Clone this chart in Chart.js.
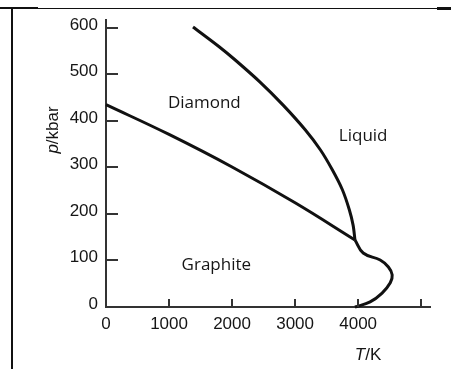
<!DOCTYPE html>
<html>
<head>
<meta charset="utf-8">
<title>Carbon phase diagram</title>
<script src="https://cdn.jsdelivr.net/npm/chart.js@4.4.1/dist/chart.umd.min.js"></script>
<style>
  html, body { margin: 0; padding: 0; background: #fff; }
  body { width: 451px; height: 369px; position: relative; overflow: hidden; }
  .rule { position: absolute; background: #111; }
  .rule-top { left: 0; top: 8px; width: 451px; height: 1px; }
  .rule-top-left { left: 0; top: 7px; width: 38px; height: 2px; }
  .rule-top-right { left: 437px; top: 7px; width: 14px; height: 3px; }
  .rule-left { left: 11px; top: 8px; width: 2px; height: 361px; }
  #phaseChart { position: absolute; left: 0; top: 0; }
</style>
</head>
<body>
<div class="rule rule-top"></div>
<div class="rule rule-top-left"></div>
<div class="rule rule-top-right"></div>
<div class="rule rule-left"></div>
<canvas id="phaseChart" width="451" height="369"></canvas>
<script>
// phase boundaries, T in K and p in kbar
const diamondGraphiteT = [0, 1000, 2000, 3000, 3950];
const diamondGraphiteP = [435, 371, 301, 224, 144];

const diamondLiquidT = [1380, 1800, 2050, 2440, 2810, 3160, 3400, 3590, 3750, 3860, 3920, 3950];
const diamondLiquidP = [602, 559, 531, 484, 434, 381, 338, 295, 252, 209, 176, 144];

const graphiteLiquidT = [3950, 4080, 4350, 4480, 4540, 4510, 4380, 4190, 3950];
const graphiteLiquidP = [144, 116, 101, 86, 69, 52, 30, 11, 0];

const xTicks = [0, 1000, 2000, 3000, 4000, 5000];
const xTickLabels = ['0', '1000', '2000', '3000', '4000', ''];
const yTicks = [0, 100, 200, 300, 400, 500, 600];
const yTickLabels = ['0', '100', '200', '300', '400', '500', '600'];

const regionNames = ['Diamond', 'Liquid', 'Graphite'];
const regionT = [1560, 4080, 1750];
const regionP = [439, 368, 90];

const axisMaxT = 5140;
const axisMaxP = 617;

const ink = '#111';
const axisInk = '#333';
const textInk = '#151515';

function toPoints(ts, ps) {
  return ts.map((t, i) => ({ x: t, y: ps[i] }));
}

function boundary(ts, ps, tension) {
  return {
    data: toPoints(ts, ps),
    showLine: true,
    borderColor: ink,
    borderWidth: 3,
    pointRadius: 0,
    tension: tension,
    fill: false,
    clip: false
  };
}

function drawMixedLabel(ctx, parts, size) {
  // parts: [[text, italic], ...] drawn centred on the current origin
  const fonts = parts.map(p => `${p[1] ? 'italic ' : ''}${size}px "Liberation Sans"`);
  const widths = parts.map((p, i) => {
    ctx.font = fonts[i];
    return ctx.measureText(p[0]).width;
  });
  let cursor = -widths.reduce((a, b) => a + b, 0) / 2;
  ctx.textAlign = 'left';
  ctx.textBaseline = 'middle';
  parts.forEach((p, i) => {
    ctx.font = fonts[i];
    ctx.fillText(p[0], cursor, 0);
    cursor += widths[i];
  });
}

const phaseMarks = {
  id: 'phaseMarks',
  afterDraw(chart) {
    const { ctx, chartArea, scales: { x, y } } = chart;
    ctx.save();

    // tick marks point into the plot
    ctx.strokeStyle = axisInk;
    ctx.lineWidth = 2;
    ctx.beginPath();
    yTicks.filter(v => v > 0).forEach(v => {
      const py = Math.round(y.getPixelForValue(v));
      ctx.moveTo(chartArea.left, py);
      ctx.lineTo(chartArea.left + 12, py);
    });
    xTicks.filter(v => v > 0).forEach(v => {
      const px = Math.round(x.getPixelForValue(v));
      ctx.moveTo(px, chartArea.bottom);
      ctx.lineTo(px, chartArea.bottom - 8);
    });
    ctx.stroke();

    // region names
    ctx.fillStyle = textInk;
    ctx.font = '17px "Open Sans"';
    ctx.textAlign = 'center';
    ctx.textBaseline = 'middle';
    regionNames.forEach((name, i) => {
      ctx.fillText(name, x.getPixelForValue(regionT[i]), y.getPixelForValue(regionP[i]));
    });

    // axis titles
    ctx.save();
    ctx.translate(chartArea.right - 62, chartArea.bottom + 48);
    drawMixedLabel(ctx, [['T', true], ['/K', false]], 17);
    ctx.restore();

    ctx.save();
    ctx.translate(chartArea.left - 53, chartArea.top + 110);
    ctx.rotate(-Math.PI / 2);
    drawMixedLabel(ctx, [['p', true], ['/kbar', false]], 17);
    ctx.restore();

    ctx.restore();
  }
};

function buildChart() {
  const ctx = document.getElementById('phaseChart').getContext('2d');
  Chart.defaults.font.family = '"Liberation Sans", Arial, sans-serif';

  return new Chart(ctx, {
    type: 'scatter',
    data: {
      datasets: [
        boundary(diamondGraphiteT, diamondGraphiteP, 0.4),
        boundary(diamondLiquidT, diamondLiquidP, 0.3),
        boundary(graphiteLiquidT, graphiteLiquidP, 0.4)
      ]
    },
    options: {
      responsive: false,
      animation: false,
      layout: { padding: { top: 20, right: 21, left: 0, bottom: 0 } },
      plugins: {
        legend: { display: false },
        tooltip: { enabled: false }
      },
      scales: {
        x: {
          type: 'linear',
          min: 0,
          max: axisMaxT,
          grid: { display: false, drawTicks: false },
          border: { display: true, color: axisInk, width: 2 },
          afterBuildTicks: scale => { scale.ticks = xTicks.map(v => ({ value: v })); },
          afterFit: scale => { scale.height = 62; },
          ticks: {
            autoSkip: false,
            maxRotation: 0,
            padding: 7,
            color: textInk,
            font: { size: 17 },
            callback: value => xTickLabels[xTicks.indexOf(value)]
          }
        },
        y: {
          type: 'linear',
          min: 0,
          max: axisMaxP,
          grid: { display: false, drawTicks: false },
          border: { display: true, color: axisInk, width: 2 },
          afterBuildTicks: scale => { scale.ticks = yTicks.map(v => ({ value: v })); },
          afterFit: scale => { scale.width = 106; },
          ticks: {
            autoSkip: false,
            padding: 8,
            labelOffset: -3,
            color: textInk,
            font: { size: 17 },
            callback: value => yTickLabels[yTicks.indexOf(value)]
          }
        }
      }
    },
    plugins: [phaseMarks]
  });
}

window.addEventListener('DOMContentLoaded', buildChart);
</script>
</body>
</html>
